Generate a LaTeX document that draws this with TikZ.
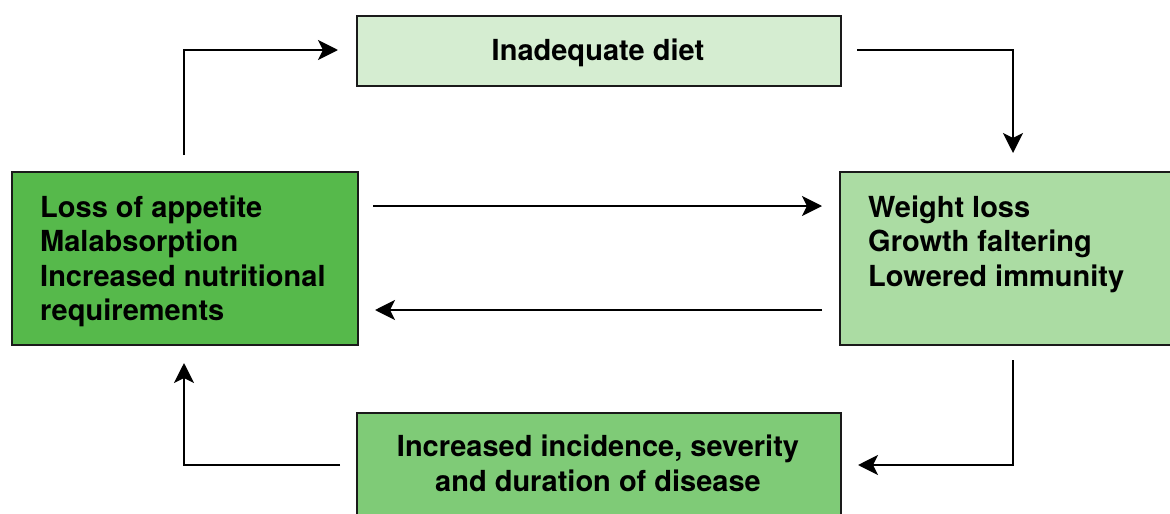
\documentclass[tikz,border=0pt]{standalone}
\usepackage{fontspec}
\setmainfont{TeX Gyre Heros}
\usetikzlibrary{arrows.meta}
\definecolor{dietfill}{HTML}{D5EDD1}
\definecolor{causefill}{HTML}{56B94B}
\definecolor{effectfill}{HTML}{ABDCA3}
\definecolor{diseasefill}{HTML}{7FCB77}
\definecolor{edge}{HTML}{1A1A1A}
\begin{document}
\begin{tikzpicture}[x=1pt,y=-1pt,
  box/.style={draw=edge,line width=2pt,anchor=north west,inner sep=0pt},
  label/.style={font=\fontsize{29}{34.5}\selectfont\bfseries,inner sep=0pt},
  flow/.style={line width=2.2pt,-{Stealth[length=20pt,width=20pt,inset=5pt]}}]
  \useasboundingbox (0,0) rectangle (1170,514);
  % boxes
  \node[box,fill=dietfill,minimum width=484pt,minimum height=70pt] (diet) at (356,15) {};
  \node[box,fill=causefill,minimum width=346pt,minimum height=173pt] (cause) at (11,171) {};
  \node[box,fill=effectfill,minimum width=360pt,minimum height=173pt] (effect) at (839,171) {};
  \node[box,fill=diseasefill,minimum width=484pt,minimum height=130pt] (disease) at (356,412) {};
  % texts (base anchor = baseline of the last line)
  \node[label,anchor=base] (tdiet) at (598,60) {Inadequate diet};
  \node[label,align=left,anchor=base west] (tcause) at (40,320.5)
    {Loss of appetite\\Malabsorption\\Increased nutritional\\requirements};
  \node[label,align=left,anchor=base west] (teffect) at (868,286)
    {Weight loss\\Growth faltering\\Lowered immunity};
  \node[label,align=center,anchor=base] (tdisease) at (598,491)
    {Increased incidence, severity\\and duration of disease};
  % connector ends
  \coordinate (a1) at (184,155);
  \coordinate (a2) at (338,50);
  \coordinate (b1) at (857,50);
  \coordinate (b2) at (1013,153);
  \coordinate (c1) at (373,206);
  \coordinate (c2) at (822,206);
  \coordinate (d1) at (822,310);
  \coordinate (d2) at (375,310);
  \coordinate (e1) at (1013,360);
  \coordinate (e2) at (858,465);
  \coordinate (f1) at (340,465);
  \coordinate (f2) at (184,363);
  % connectors
  \draw[flow] (a1) |- (a2);
  \draw[flow] (b1) -| (b2);
  \draw[flow] (c1) -- (c2);
  \draw[flow] (d1) -- (d2);
  \draw[flow] (e1) |- (e2);
  \draw[flow] (f1) -| (f2);
\end{tikzpicture}
\end{document}
